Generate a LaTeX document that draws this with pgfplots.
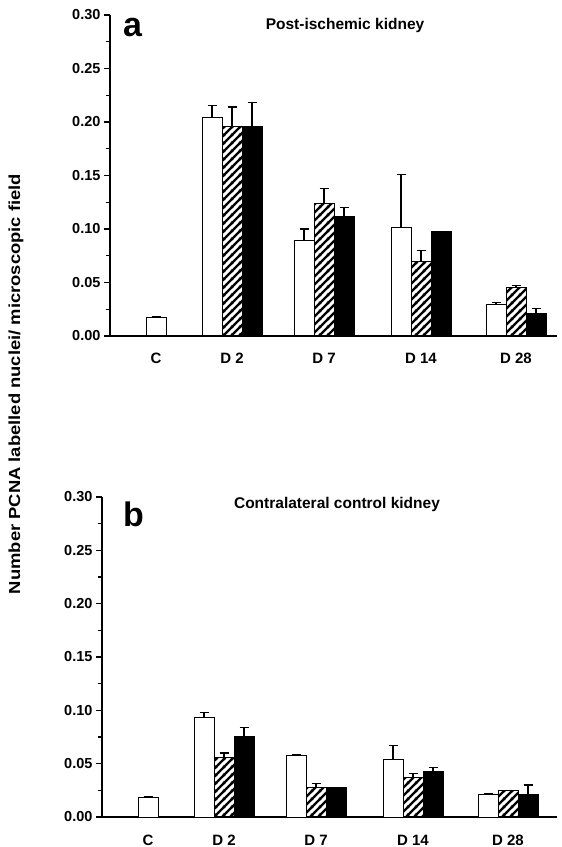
\documentclass[border=0pt]{standalone}
\usepackage{pgfplots}
\pgfplotsset{compat=1.18}
\usepackage{pgfplotstable}
\usepackage{fontspec}
\usepackage{graphicx}
\setmainfont{Liberation Sans}
\usetikzlibrary{patterns.meta}
\pgfdeclarepattern{
  name=hatchthick,
  type=uncolored,
  bottom left={\pgfpoint{-1pt}{-1pt}},
  top right={\pgfpoint{9pt}{9pt}},
  tile size={\pgfpoint{8pt}{8pt}},
  code={
    \pgfsetlinewidth{2.4pt}
    \pgfpathmoveto{\pgfpoint{-1pt}{-1pt}}
    \pgfpathlineto{\pgfpoint{9pt}{9pt}}
    \pgfpathmoveto{\pgfpoint{-1pt}{7pt}}
    \pgfpathlineto{\pgfpoint{1pt}{9pt}}
    \pgfpathmoveto{\pgfpoint{7pt}{-1pt}}
    \pgfpathlineto{\pgfpoint{9pt}{1pt}}
    \pgfusepath{stroke}
  }
}
% x = bar centre (axis units = pt from the y axis)
% top panel (a)
\pgfplotstableread{
x y e
46 0.017 0.001
}\aC
\pgfplotstableread{
x y e
102 0.204 0.011
194 0.089 0.011
291 0.101 0.050
386 0.029 0.002
}\aWhite
\pgfplotstableread{
x y e
122 0.196 0.018
214 0.124 0.014
311 0.070 0.010
406 0.045 0.002
}\aHatch
\pgfplotstableread{
x y e
142 0.196 0.022
234 0.112 0.008
331 0.098 0.000
426 0.021 0.005
}\aBlack
% bottom panel (b)
\pgfplotstableread{
x y e
46 0.018 0.001
}\bC
\pgfplotstableread{
x y e
102 0.093 0.005
194 0.058 0.001
291 0.054 0.013
386 0.021 0.001
}\bWhite
\pgfplotstableread{
x y e
122 0.056 0.004
214 0.028 0.003
311 0.037 0.004
406 0.025 0.000
}\bHatch
\pgfplotstableread{
x y e
142 0.075 0.009
234 0.028 0.000
331 0.043 0.003
426 0.021 0.009
}\bBlack
\pgfplotsset{
  panel/.style={
    scale only axis,
    ymin=0, ymax=0.30,
    xmin=0,
    axis x line*=bottom,
    axis y line*=left,
    axis line style={line width=1.2pt,-},
    ytick={0,0.05,0.10,0.15,0.20,0.25,0.30},
    minor y tick num=1,
    tick align=outside,
    major tick length=6pt,
    minor tick length=4pt,
    every tick/.style={line width=1.1pt,black},
    /pgf/number format/assume math mode=true,
    yticklabel style={/pgf/number format/fixed,/pgf/number format/fixed zerofill,/pgf/number format/precision=2,
      font=\bfseries\fontsize{14.5}{16}\selectfont},
    xtick={46,122,214,311,406},
    xticklabels={C, D 2, D 7, D 14, D 28},
    xtick style={draw=none},
    xticklabel style={font=\bfseries\fontsize{15}{17}\selectfont, anchor=base, yshift=-22pt},
    scaled y ticks=false,
  },
  errs/.style={
    error bars/y dir=plus, error bars/y explicit,
    error bars/error bar style={line width=1.1pt,black},
    error bars/error mark options={line width=1.1pt,black,mark size=4.5pt,rotate=90}},
  barW/.style={ybar, bar width=20, bar shift=0pt, fill=white, draw=black, line width=1pt, errs},
  barH/.style={ybar, bar width=20, bar shift=0pt, pattern=hatchthick, pattern color=black, draw=black, line width=1pt, errs},
  barB/.style={ybar, bar width=20, bar shift=0pt, fill=black, draw=black, line width=1pt, errs},
}
\begin{document}
\begin{tikzpicture}
\useasboundingbox (0,0) rectangle (562pt,847pt);
\begin{axis}[panel, at={(110pt,511pt)}, anchor=south west, width=447pt, height=321pt, xmax=447]
\addplot[barW] table[x=x,y=y,y error=e]{\aC};
\addplot[barW] table[x=x,y=y,y error=e]{\aWhite};
\addplot[barH] table[x=x,y=y,y error=e]{\aHatch};
\addplot[barB] table[x=x,y=y,y error=e]{\aBlack};
\end{axis}
\begin{axis}[panel, at={(102pt,30pt)}, anchor=south west, width=455pt, height=320pt, xmax=455]
\addplot[barW] table[x=x,y=y,y error=e]{\bC};
\addplot[barW] table[x=x,y=y,y error=e]{\bWhite};
\addplot[barH] table[x=x,y=y,y error=e]{\bHatch};
\addplot[barB] table[x=x,y=y,y error=e]{\bBlack};
\end{axis}
\node[anchor=base west, inner sep=0, font=\bfseries\fontsize{34}{36}\selectfont] at (123pt,810pt) {a};
\node[anchor=base west, inner sep=0, font=\bfseries\fontsize{34}{36}\selectfont] at (123pt,320pt) {b};
\node[anchor=base, inner sep=0, font=\bfseries\fontsize{15.5}{17}\selectfont] at (345pt,817pt) {Post-ischemic kidney};
\node[anchor=base, inner sep=0, font=\bfseries\fontsize{15.5}{17}\selectfont] at (337pt,338pt) {Contralateral control kidney};
\node[rotate=90, inner sep=0, font=\bfseries\fontsize{16}{18}\selectfont] at (16pt,463pt) {\scalebox{1.15}[1]{Number PCNA labelled nuclei/ microscopic field}};
\end{tikzpicture}
\end{document}
